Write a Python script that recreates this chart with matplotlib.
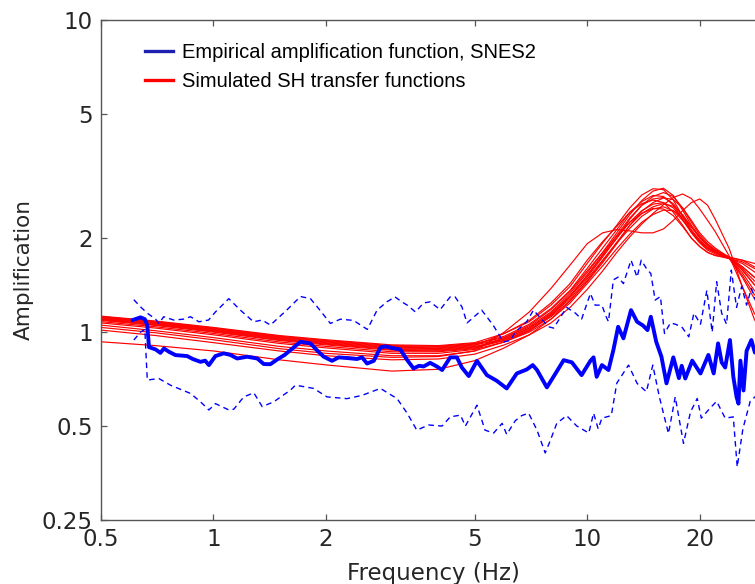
import matplotlib
matplotlib.use("Agg")
import matplotlib.pyplot as plt
from matplotlib.ticker import FixedLocator, FixedFormatter, NullLocator
from matplotlib.lines import Line2D

# ---------------- data ----------------
# frequency grid of simulated SH transfer functions (Hz)
f_sim = [0.5, 0.7, 1, 1.5, 2, 3, 4, 5, 6, 7, 8, 9, 10, 11, 12, 13, 14, 15, 16,
         17, 18, 19, 20, 21, 22, 24, 26, 28, 30, 33]

sim_1 = [1.125, 1.085, 1.035, 0.975, 0.945, 0.91, 0.905, 0.925, 0.99, 1.08, 1.22, 1.40, 1.66, 1.93, 2.20, 2.50, 2.75, 2.88, 2.86, 2.65, 2.35, 2.10, 1.95, 1.85, 1.80, 1.74, 1.70, 1.66, 1.64, 1.60]
sim_2 = [1.12, 1.08, 1.03, 0.97, 0.94, 0.905, 0.90, 0.92, 0.96, 1.04, 1.16, 1.33, 1.55, 1.80, 2.08, 2.38, 2.64, 2.83, 2.89, 2.74, 2.46, 2.20, 2.02, 1.90, 1.83, 1.74, 1.62, 1.50, 1.42, 1.38]
sim_3 = [1.115, 1.075, 1.025, 0.965, 0.935, 0.90, 0.895, 0.915, 0.97, 1.06, 1.19, 1.36, 1.60, 1.86, 2.13, 2.42, 2.62, 2.74, 2.72, 2.55, 2.30, 2.08, 1.93, 1.83, 1.78, 1.72, 1.68, 1.60, 1.55, 1.50]
sim_4 = [1.11, 1.07, 1.02, 0.96, 0.93, 0.895, 0.89, 0.91, 0.95, 1.03, 1.14, 1.30, 1.50, 1.74, 2.00, 2.30, 2.55, 2.72, 2.80, 2.72, 2.50, 2.25, 2.05, 1.92, 1.84, 1.74, 1.58, 1.42, 1.32, 1.28]
sim_5 = [1.105, 1.065, 1.015, 0.955, 0.925, 0.89, 0.885, 0.905, 0.99, 1.09, 1.24, 1.43, 1.70, 1.95, 2.18, 2.42, 2.58, 2.65, 2.60, 2.42, 2.20, 2.00, 1.88, 1.80, 1.76, 1.73, 1.70, 1.62, 1.56, 1.50]
sim_6 = [1.10, 1.06, 1.01, 0.95, 0.92, 0.885, 0.88, 0.90, 0.94, 1.01, 1.12, 1.26, 1.45, 1.67, 1.92, 2.20, 2.44, 2.60, 2.69, 2.66, 2.50, 2.28, 2.08, 1.95, 1.86, 1.73, 1.52, 1.32, 1.22, 1.18]
sim_7 = [1.095, 1.055, 1.005, 0.945, 0.915, 0.88, 0.875, 0.895, 0.95, 1.03, 1.15, 1.31, 1.52, 1.76, 2.00, 2.25, 2.45, 2.57, 2.60, 2.50, 2.30, 2.10, 1.95, 1.85, 1.80, 1.73, 1.62, 1.50, 1.42, 1.38]
sim_8 = [1.09, 1.05, 1.00, 0.94, 0.91, 0.875, 0.87, 0.89, 0.94, 1.02, 1.13, 1.28, 1.48, 1.70, 1.93, 2.15, 2.35, 2.48, 2.52, 2.45, 2.28, 2.10, 1.96, 1.86, 1.80, 1.72, 1.58, 1.42, 1.34, 1.30]
sim_9 = [1.08, 1.04, 0.99, 0.93, 0.90, 0.865, 0.865, 0.885, 0.96, 1.05, 1.18, 1.35, 1.57, 1.80, 2.03, 2.25, 2.40, 2.49, 2.48, 2.36, 2.18, 2.00, 1.88, 1.80, 1.76, 1.72, 1.66, 1.56, 1.50, 1.45]
sim_10 = [1.07, 1.03, 0.98, 0.92, 0.89, 0.855, 0.855, 0.88, 0.93, 1.00, 1.10, 1.24, 1.43, 1.63, 1.85, 2.06, 2.25, 2.38, 2.46, 2.45, 2.34, 2.17, 2.02, 1.90, 1.82, 1.72, 1.50, 1.28, 1.18, 1.12]
sim_11 = [1.053, 1.01, 0.96, 0.90, 0.87, 0.84, 0.84, 0.87, 0.93, 1.01, 1.13, 1.30, 1.52, 1.77, 2.04, 2.32, 2.55, 2.67, 2.70, 2.58, 2.36, 2.13, 1.97, 1.87, 1.81, 1.73, 1.60, 1.46, 1.38, 1.33]
sim_12 = [0.931, 0.905, 0.87, 0.815, 0.785, 0.75, 0.76, 0.81, 0.89, 0.98, 1.10, 1.26, 1.46, 1.69, 1.94, 2.20, 2.40, 2.52, 2.58, 2.53, 2.38, 2.18, 2.00, 1.89, 1.82, 1.72, 1.55, 1.36, 1.26, 1.20]
sim_13 = [1.015, 0.975, 0.925, 0.87, 0.84, 0.815, 0.82, 0.85, 0.91, 0.98, 1.07, 1.20, 1.37, 1.57, 1.80, 2.02, 2.22, 2.40, 2.56, 2.70, 2.77, 2.68, 2.48, 2.28, 2.10, 1.75, 1.40, 1.15, 1.02, 0.98]
sim_14 = [1.035, 0.995, 0.945, 0.885, 0.855, 0.83, 0.835, 0.87, 1.00, 1.16, 1.38, 1.64, 1.92, 2.08, 2.13, 2.11, 2.08, 2.08, 2.14, 2.28, 2.45, 2.60, 2.67, 2.55, 2.30, 1.85, 1.40, 1.10, 0.95, 0.90]
sim_curves = [sim_1, sim_2, sim_3, sim_4, sim_5, sim_6, sim_7, sim_8, sim_9,
              sim_10, sim_11, sim_12, sim_13, sim_14]

# empirical amplification function (mean)
f_emp = [0.608, 0.638, 0.655, 0.665, 0.672, 0.70, 0.721, 0.737, 0.76, 0.791, 0.85, 0.88, 0.923, 0.95, 0.972,
         1.012, 1.065, 1.11, 1.157, 1.23, 1.31, 1.363, 1.42, 1.48, 1.55, 1.607, 1.709, 1.817, 1.9, 1.972,
         2.076, 2.163, 2.3, 2.421, 2.497, 2.576, 2.685, 2.797, 2.882, 3.0, 3.16, 3.30, 3.43, 3.55, 3.65,
         3.8, 3.96, 4.09, 4.30, 4.48, 4.62, 4.82, 5.07, 5.39, 5.73, 6.09, 6.48, 6.89, 7.15, 7.34,
         7.80, 8.21, 8.65, 9.1, 9.66, 10.2, 10.4, 10.6, 10.95, 11.4, 11.75, 12.1, 12.5, 13.1, 13.6,
         14.1, 14.5, 14.8, 15.3, 15.8, 16.3, 17.0, 17.6, 17.9, 18.3, 19.1, 20.1, 21.1, 21.8, 22.4,
         22.9, 23.4, 24.1, 24.6, 25.1, 25.4, 25.7, 26.2, 26.7, 27.5, 28.1, 28.8]
a_emp = [1.093, 1.115, 1.10, 1.05, 0.895, 0.88, 0.858, 0.886, 0.865, 0.844, 0.838, 0.82, 0.803, 0.81, 0.784,
         0.838, 0.855, 0.845, 0.823, 0.834, 0.823, 0.79, 0.789, 0.817, 0.845, 0.876, 0.931, 0.92, 0.87, 0.834,
         0.809, 0.83, 0.825, 0.82, 0.83, 0.793, 0.809, 0.893, 0.90, 0.89, 0.88, 0.813, 0.765, 0.78, 0.776,
         0.797, 0.776, 0.756, 0.83, 0.83, 0.77, 0.723, 0.809, 0.728, 0.698, 0.66, 0.737, 0.759, 0.784, 0.756,
         0.665, 0.734, 0.813, 0.80, 0.728, 0.809, 0.83, 0.719, 0.784, 0.756, 0.876, 1.04, 0.955, 1.176, 1.079,
         1.05, 1.015, 1.12, 0.931, 0.834, 0.685, 0.83, 0.712, 0.78, 0.71, 0.81, 0.737, 0.845, 0.737, 0.92,
         0.80, 0.77, 0.943, 0.72, 0.62, 0.59, 0.81, 0.65, 0.87, 0.943, 0.86, 0.95]

# upper bound (dashed)
f_hi = [0.612, 0.64, 0.665, 0.70, 0.714, 0.736, 0.783, 0.83, 0.868, 0.914, 0.97, 1.012, 1.099, 1.18, 1.28,
        1.35, 1.42, 1.57, 1.709, 1.817, 1.9, 2.055, 2.186, 2.37, 2.58, 2.74, 2.91, 3.06, 3.19, 3.30,
        3.47, 3.65, 3.8, 4.04, 4.30, 4.43, 4.62, 4.77, 5.22, 5.6, 5.97, 6.23, 6.42, 6.89, 7.18,
        7.45, 7.88, 8.13, 8.5, 8.81, 9.3, 9.66, 10.2, 10.5, 10.95, 11.2, 11.4, 11.75, 12.1, 12.5,
        13.1, 13.6, 13.95, 14.4, 14.8, 15.2, 15.7, 16.1, 16.7, 17.2, 17.9, 18.7, 19.3, 20.1, 20.9,
        21.6, 22.2, 22.9, 23.6, 24.3, 25.1, 25.9, 26.7, 27.5, 28.3, 29.0]
a_hi = [1.27, 1.20, 1.15, 1.10, 1.066, 1.12, 1.093, 1.10, 1.12, 1.079, 1.093, 1.16, 1.28, 1.176, 1.079,
        1.093, 1.053, 1.176, 1.30, 1.28, 1.20, 1.066, 1.10, 1.09, 1.02, 1.176, 1.25, 1.297, 1.25, 1.22,
        1.16, 1.24, 1.25, 1.18, 1.297, 1.297, 1.206, 1.07, 1.176, 1.053, 0.93, 0.94, 1.0, 1.08, 1.176,
        1.12, 1.04, 1.03, 1.12, 1.20, 1.15, 1.10, 1.33, 1.22, 1.22, 1.13, 1.08, 1.47, 1.50, 1.43,
        1.70, 1.50, 1.70, 1.60, 1.54, 1.266, 1.30, 0.99, 1.07, 1.06, 1.04, 0.966, 1.15, 1.06, 1.36,
        1.0, 1.45, 1.15, 1.06, 1.58, 1.20, 1.40, 1.22, 1.38, 1.25, 1.40]

# lower bound (dashed)
f_lo = [0.612, 0.638, 0.655, 0.665, 0.714, 0.767, 0.868, 0.923, 0.972, 1.012, 1.099, 1.133, 1.205, 1.282, 1.35,
        1.45, 1.607, 1.657, 1.854, 2.012, 2.277, 2.497, 2.797, 3.10, 3.30, 3.50, 3.76, 4.09, 4.30, 4.58,
        4.72, 5.07, 5.33, 5.62, 5.92, 6.09, 6.42, 6.68, 6.97, 7.34, 7.72, 7.97, 8.29, 8.81, 9.38,
        10.1, 10.4, 10.7, 10.95, 11.6, 12.0, 12.9, 13.6, 14.4, 14.98, 15.6, 16.5, 17.2, 18.1, 18.9,
        19.7, 20.2, 21.3, 22.2, 23.4, 24.6, 25.2, 26.1, 27.3, 28.1, 29.0]
a_lo = [0.943, 1.0, 1.02, 0.702, 0.71, 0.676, 0.636, 0.598, 0.563, 0.59, 0.563, 0.566, 0.62, 0.639, 0.577,
        0.598, 0.652, 0.676, 0.66, 0.62, 0.612, 0.627, 0.66, 0.612, 0.549, 0.485, 0.504, 0.50, 0.535, 0.542,
        0.50, 0.583, 0.485, 0.475, 0.51, 0.47, 0.52, 0.54, 0.55, 0.485, 0.41, 0.45, 0.51, 0.54, 0.50,
        0.475, 0.55, 0.49, 0.53, 0.54, 0.686, 0.784, 0.685, 0.644, 0.784, 0.62, 0.473, 0.62, 0.44, 0.555,
        0.613, 0.53, 0.57, 0.60, 0.53, 0.535, 0.37, 0.49, 0.60, 0.62, 0.58]

x_ticks = [0.5, 1, 2, 5, 10, 20]
x_tick_labels = ["0.5", "1", "2", "5", "10", "20"]
y_ticks = [0.25, 0.5, 1, 2, 5, 10]
y_tick_labels = ["0.25", "0.5", "1", "2", "5", "10"]

# ---------------- plot ----------------
W, H = 755, 584
fig = plt.figure(figsize=(W / 100, H / 100), dpi=100)
ax = fig.add_axes([101 / W, 64 / H, 664.5 / W, 500 / H])

for c in sim_curves:
    ax.plot(f_sim, c, color="red", lw=0.85, zorder=2)

ax.plot(f_hi, a_hi, color="blue", lw=1.0, dashes=(4, 3), zorder=3)
ax.plot(f_lo, a_lo, color="blue", lw=1.0, dashes=(4, 3), zorder=3)
ax.plot(f_emp, a_emp, color="blue", lw=2.8, zorder=4)

ax.set_xscale("log")
ax.set_yscale("log")
ax.set_xlim(0.5, 30)
ax.set_ylim(0.25, 10)

ax.xaxis.set_major_locator(FixedLocator(x_ticks))
ax.xaxis.set_major_formatter(FixedFormatter(x_tick_labels))
ax.yaxis.set_major_locator(FixedLocator(y_ticks))
ax.yaxis.set_major_formatter(FixedFormatter(y_tick_labels))
ax.xaxis.set_minor_locator(NullLocator())
ax.yaxis.set_minor_locator(NullLocator())

spine_col = "#555555"
for s in ax.spines.values():
    s.set_color(spine_col)
    s.set_linewidth(1.0)
ax.tick_params(which="both", direction="in", top=True, right=True, length=4,
               width=0.9, color=spine_col, labelsize=16.5, labelcolor="#262626", pad=6)

ax.set_xlabel("Frequency (Hz)", fontsize=16.5, color="#262626", labelpad=8)
ax.set_ylabel("Amplification", fontsize=15.5, color="#262626", labelpad=6)

handles = [Line2D([], [], color="#2020b0", lw=2.4), Line2D([], [], color="red", lw=2.4)]
labels = ["Empirical amplification function, SNES2", "Simulated SH transfer functions"]
ax.legend(handles, labels, loc="upper left", bbox_to_anchor=(0.066, 0.953), frameon=False,
          borderaxespad=0, borderpad=0, handlelength=1.4, handletextpad=0.45, labelspacing=0.45,
          prop={"family": "Liberation Sans", "size": 14.5})

fig.savefig("out.png", dpi=100)
